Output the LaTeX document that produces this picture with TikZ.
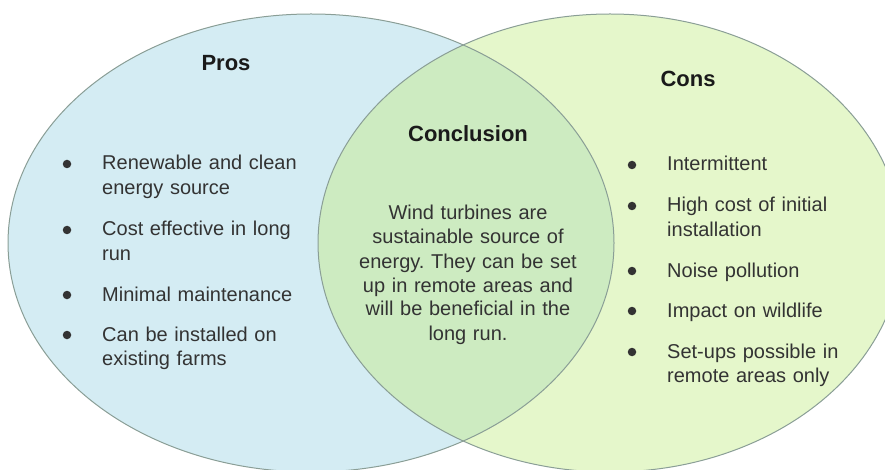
\documentclass[tikz,border=0pt]{standalone}
\usepackage{fontspec}
\setmainfont{Liberation Sans}
\frenchspacing
\definecolor{blueF}{HTML}{D4ECF3}
\definecolor{greenF}{HTML}{E5F7CB}
\definecolor{overF}{HTML}{CDEBC1}
\definecolor{edge}{HTML}{8A9E96}
\definecolor{txt}{HTML}{333333}
\definecolor{ttl}{HTML}{1A1A1A}
\begin{document}
\begin{tikzpicture}[x=1pt,y=-1pt,
  body/.style={font=\fontsize{20}{24.5}\selectfont, text=txt, inner sep=0pt, anchor=base west, text width=230pt, align=left},
  concl/.style={font=\fontsize{20}{24}\selectfont, text=txt, inner sep=0pt, anchor=base, text width=240pt, align=center},
  title/.style={font=\bfseries\fontsize{22}{26}\selectfont, text=ttl, inner sep=0pt, anchor=base},
  dot/.style={circle, fill=txt, draw=none, inner sep=0pt, minimum size=8.5pt},
  venn/.style={draw=edge, line width=1pt}]
\useasboundingbox (0,0) rectangle (885,470);
% circles
\fill[blueF] (311,243) ellipse [x radius=303, y radius=229];
\fill[greenF] (610,243) ellipse [x radius=292, y radius=229];
\begin{scope}
  \clip (311,243) ellipse [x radius=303, y radius=229];
  \fill[overF] (610,243) ellipse [x radius=292, y radius=229];
\end{scope}
\draw[venn] (311,243) ellipse [x radius=303, y radius=229];
\draw[venn] (610,243) ellipse [x radius=292, y radius=229];
% titles
\node[title] (pros) at (226,71) {Pros};
\node[title] (cons) at (688,87) {Cons};
\node[title] (conclusion) at (468,142) {Conclusion};
% pros
\node[dot] (pb1) at (67,164) {};
\node[body] (p1) at (102,170) {Renewable and clean\\energy source};
\node[dot] (pb2) at (67,230) {};
\node[body] (p2) at (102,236) {Cost effective in long\\run};
\node[dot] (pb3) at (67,295) {};
\node[body] (p3) at (102,301) {Minimal maintenance};
\node[dot] (pb4) at (67,335) {};
\node[body] (p4) at (102,341) {Can be installed on\\existing farms};
% cons
\node[dot] (cb1) at (632,165) {};
\node[body] (c1) at (667,171) {Intermittent};
\node[dot] (cb2) at (632,206) {};
\node[body] (c2) at (667,212) {High cost of initial\\installation};
\node[dot] (cb3) at (632,271) {};
\node[body] (c3) at (667,277) {Noise pollution};
\node[dot] (cb4) at (632,311) {};
\node[body] (c4) at (667,317) {Impact on wildlife};
\node[dot] (cb5) at (632,352) {};
\node[body] (c5) at (667,358) {Set-ups possible in\\remote areas only};
% conclusion
\node[concl] (ctext) at (468,220) {Wind turbines are\\sustainable source of\\energy. They can be set\\up in remote areas and\\will be beneficial in the\\long run.};
\end{tikzpicture}
\end{document}
